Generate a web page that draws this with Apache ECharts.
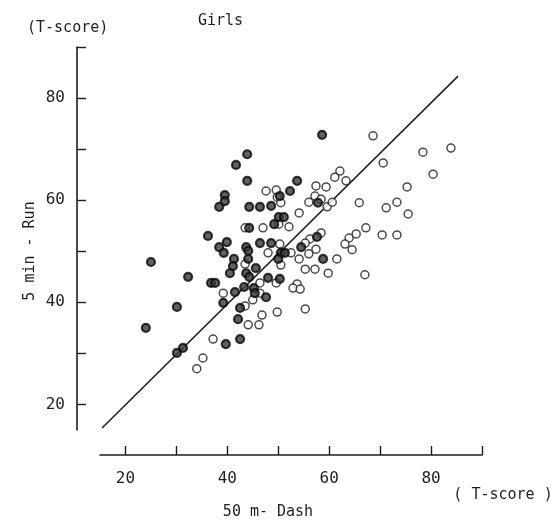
<!DOCTYPE html>
<html lang="en">
<head>
    <meta charset="utf-8">
    <title>Girls - 50m Dash vs 5 min Run</title>
    <script src="https://cdn.jsdelivr.net/npm/echarts@6.0.0/dist/echarts.min.js"></script>
    <style>
        html, body { margin: 0; padding: 0; background: #fff; }
        #chart { width: 557px; height: 521px; }
    </style>
</head>
<body>
<div id="chart"></div>
<script type="text/javascript">

// T-scores: [50m dash, 5 min run]
var filledPoints = [
    [58.6, 72.8], [43.9, 69.0], [41.7, 66.9], [43.9, 63.8], [53.7, 63.8],
    [52.3, 61.8], [50.3, 60.8], [39.5, 61.0], [39.5, 59.8], [38.4, 58.7],
    [44.3, 58.7], [46.4, 58.7], [48.6, 58.9], [57.8, 59.5], [50.1, 56.7],
    [51.1, 56.7], [49.2, 55.3], [44.3, 54.6], [36.2, 53.0], [38.4, 50.8],
    [39.9, 51.8], [39.3, 49.7], [43.7, 50.8], [44.1, 50.1], [46.4, 51.6],
    [48.6, 51.6], [54.5, 50.8], [57.6, 52.8], [50.5, 49.7], [51.3, 49.7],
    [50.0, 48.5], [41.3, 48.5], [41.1, 47.1], [40.5, 45.7], [44.1, 48.5],
    [43.7, 45.7], [44.3, 45.0], [45.6, 46.7], [58.8, 48.5], [36.8, 43.8],
    [37.6, 43.8], [41.5, 42.0], [43.3, 43.0], [45.2, 42.8], [45.4, 41.8],
    [48.0, 44.8], [50.3, 44.6], [39.2, 39.9], [42.5, 38.9], [47.6, 41.0],
    [42.1, 36.7], [25.0, 47.9], [32.3, 45.0], [30.1, 39.1], [24.0, 35.0],
    [39.7, 31.8], [42.5, 32.8], [30.1, 30.1], [31.3, 31.1]
];
var openPoints = [
    [68.6, 72.6], [78.4, 69.4], [83.9, 70.2], [70.6, 67.3], [80.4, 65.1],
    [62.1, 65.7], [61.1, 64.5], [63.3, 63.8], [75.3, 62.6], [47.6, 61.8],
    [49.6, 62.0], [49.8, 60.6], [50.5, 59.5], [57.4, 62.8], [59.4, 62.6],
    [57.2, 60.8], [56.0, 59.6], [58.4, 60.2], [59.6, 58.7], [60.6, 59.6],
    [65.9, 59.5], [73.3, 59.6], [71.2, 58.5], [75.5, 57.3], [54.1, 57.5],
    [43.5, 54.6], [47.0, 54.6], [50.1, 55.3], [52.1, 54.8], [67.2, 54.6],
    [65.3, 53.4], [63.9, 52.6], [70.4, 53.2], [73.3, 53.2], [58.4, 53.6],
    [56.2, 52.4], [55.3, 51.6], [57.4, 50.4], [56.0, 49.5], [63.1, 51.4],
    [64.5, 50.3], [50.3, 51.4], [48.0, 49.7], [52.5, 49.7], [54.1, 48.5],
    [61.5, 48.5], [50.5, 47.3], [43.5, 47.5], [55.3, 46.5], [57.2, 46.5],
    [59.8, 45.7], [67.0, 45.4], [46.4, 43.8], [49.6, 43.8], [53.7, 43.6],
    [52.9, 42.8], [54.3, 42.6], [39.2, 41.8], [46.4, 41.8], [45.0, 40.5],
    [43.5, 39.3], [46.8, 37.5], [49.8, 38.1], [55.3, 38.7], [44.1, 35.6],
    [46.2, 35.6], [37.2, 32.8], [35.2, 29.1], [34.0, 27.0]
];
// regression line end points
var lineX = [15.4, 85.3];
var lineY = [15.4, 84.3];

var xTicks = [20, 30, 40, 50, 60, 70, 80, 90];
var xLabels = [20, 40, 60, 80];
var yTicks = [20, 30, 40, 50, 60, 70, 80, 90];
var yLabels = [20, 40, 60, 80];

var ink = '#1e1e1e';
var font = "'DejaVu Sans Mono', monospace";

var chart = echarts.init(document.getElementById('chart'), null, { renderer: 'canvas' });

var option = {
    animation: false,
    backgroundColor: '#fff',
    grid: { left: 100, top: 47, width: 382, height: 383 },
    xAxis: {
        type: 'value',
        min: 15,
        max: 90,
        offset: 25,
        splitLine: { show: false },
        axisLine: { show: true, lineStyle: { color: ink, width: 1.6 } },
        axisTick: {
            show: true, inside: true, length: 9, customValues: xTicks,
            lineStyle: { color: ink, width: 1.4 }
        },
        axisLabel: {
            customValues: xLabels, margin: 16,
            color: ink, fontFamily: font, fontSize: 16
        }
    },
    yAxis: {
        type: 'value',
        min: 15,
        max: 90,
        offset: 23,
        splitLine: { show: false },
        axisLine: { show: true, lineStyle: { color: ink, width: 1.6 } },
        axisTick: {
            show: true, inside: true, length: 9, customValues: yTicks,
            lineStyle: { color: ink, width: 1.4 }
        },
        axisLabel: {
            customValues: yLabels, margin: 12,
            color: ink, fontFamily: font, fontSize: 16
        }
    },
    series: [
        {
            type: 'line',
            data: lineX.map((x, i) => [x, lineY[i]]),
            showSymbol: false,
            silent: true,
            z: 1,
            lineStyle: { color: ink, width: 1.5 }
        },
        {
            type: 'scatter',
            data: openPoints,
            symbol: 'circle',
            symbolSize: 8,
            z: 2,
            itemStyle: { color: '#fff', borderColor: ink, borderWidth: 1.5 }
        },
        {
            type: 'scatter',
            data: filledPoints,
            symbol: 'circle',
            symbolSize: 8,
            z: 3,
            itemStyle: { color: '#3a3a3a', borderColor: '#0a0a0a', borderWidth: 2.2 }
        }
    ],
    graphic: [
        { type: 'text', left: 27, top: 21, style: { text: '(T-score)', font: '15px ' + font, fill: ink } },
        { type: 'text', left: 198, top: 14, style: { text: 'Girls', font: '15px ' + font, fill: ink } },
        {
            type: 'text', x: 30, y: 251, rotation: Math.PI / 2,
            style: { text: '5 min - Run', font: '15px ' + font, fill: ink, align: 'center', verticalAlign: 'middle' }
        },
        {
            type: 'text', x: 268, y: 512,
            style: { text: '50 m- Dash', font: '15px ' + font, fill: ink, align: 'center', verticalAlign: 'middle' }
        },
        {
            type: 'text', x: 503, y: 495,
            style: { text: '( T-score )', font: '15px ' + font, fill: ink, align: 'center', verticalAlign: 'middle' }
        }
    ]
};
chart.setOption(option);

</script>
</body>
</html>
